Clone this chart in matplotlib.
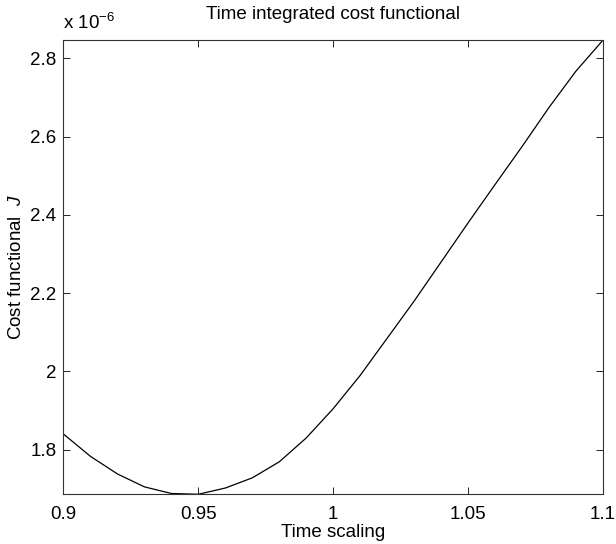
import numpy as np
import matplotlib
matplotlib.use("Agg")
import matplotlib.pyplot as plt
from matplotlib.ticker import FuncFormatter

plt.rcParams['font.family'] = ['Liberation Sans', 'DejaVu Sans']
plt.rcParams['mathtext.fontset'] = 'custom'
plt.rcParams['mathtext.it'] = 'Liberation Sans:italic'
plt.rcParams['mathtext.rm'] = 'Liberation Sans'

# time scaling factor
scaling = [0.90, 0.91, 0.92, 0.93, 0.94, 0.95, 0.96, 0.97, 0.98, 0.99, 1.00,
           1.01, 1.02, 1.03, 1.04, 1.05, 1.06, 1.07, 1.08, 1.09, 1.10]
# cost functional J, in units of 1e-6
cost = [1.840, 1.783, 1.738, 1.705, 1.688, 1.686, 1.702, 1.728, 1.769, 1.830, 1.905,
        1.990, 2.085, 2.180, 2.280, 2.380, 2.478, 2.575, 2.675, 2.768, 2.847]

fs = 13.5

fig = plt.figure(figsize=(6.16, 5.44), dpi=100)
ax = fig.add_axes([0.103, 0.0914, 0.876, 0.835])
ax.plot(scaling, cost, color='black', linewidth=0.9)

ax.set_xlim(0.9, 1.1)
ax.set_ylim(min(cost), max(cost))
ax.set_xticks([0.9, 0.95, 1.0, 1.05, 1.1])
ax.set_yticks([1.8, 2.0, 2.2, 2.4, 2.6, 2.8])
fmt = FuncFormatter(lambda v, p: '%g' % round(v, 4))
ax.xaxis.set_major_formatter(fmt)
ax.yaxis.set_major_formatter(fmt)
ax.tick_params(direction='in', top=True, right=True, length=5, width=0.6,
               labelsize=fs, pad=5)
ax.tick_params(axis='x', pad=8.5)
for s in ax.spines.values():
    s.set_linewidth(0.8)
    s.set_color('#333333')

ax.set_title('Time integrated cost functional', fontsize=fs, pad=15)
ax.set_xlabel('Time scaling', fontsize=fs, labelpad=1)
ax.set_ylabel('Cost functional  $J$', fontsize=fs, labelpad=4)
ax.text(0.0, 1.016, r'x 10$^{-6}$', transform=ax.transAxes, fontsize=fs,
        ha='left', va='bottom')

fig.savefig('out.png', dpi=100)
